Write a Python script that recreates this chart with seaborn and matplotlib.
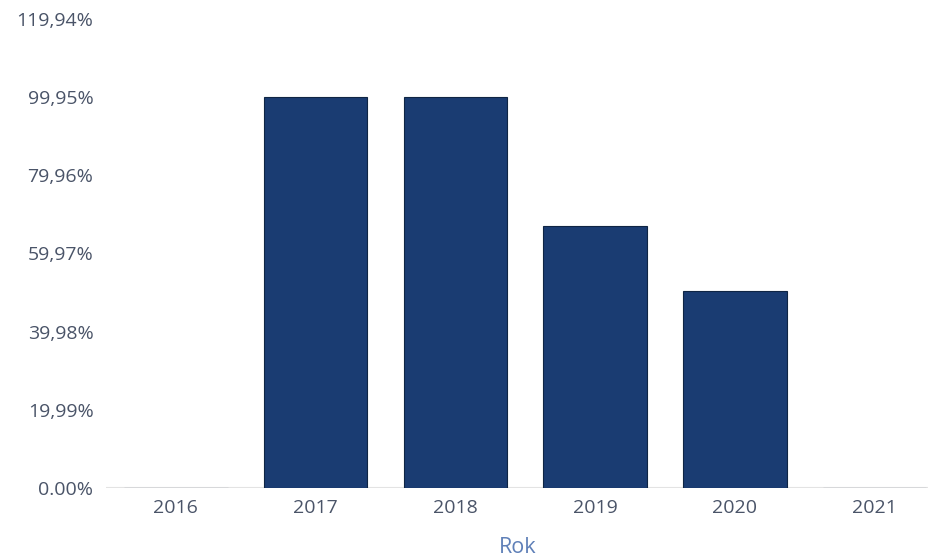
import matplotlib
matplotlib.use("Agg")
import matplotlib.pyplot as plt
import seaborn as sns
import pandas as pd

years = ["2016", "2017", "2018", "2019", "2020", "2021"]
values = [0.0, 99.95, 99.95, 67.1, 50.3, 0.0]
ytick_values = [0, 19.99, 39.98, 59.97, 79.96, 99.95, 119.94]
ytick_labels = ["0.00%", "19,99%", "39,98%", "59,97%", "79,96%", "99,95%", "119,94%"]
x_title = "Rok"

sns.set_theme(style="white")
plt.rcParams['font.family'] = ['Open Sans', 'DejaVu Sans']

df = pd.DataFrame({"Rok": years, "Wartość": values})

fig = plt.figure(figsize=(9.29, 5.6), dpi=100)
left_px = 106
ax = fig.add_axes([left_px/929, 72/560, (929 - left_px)/929, 469/560])

sns.barplot(data=df, x="Rok", y="Wartość", color="#1a3c72", width=0.74,
            saturation=1, ax=ax, edgecolor="#0f2544", linewidth=0.8)

ax.set_xlim(-0.5, -0.5 + (929 - left_px)/139.75)
ax.set_ylim(0, 119.94)
ax.set_yticks(ytick_values)
ax.set_yticklabels(ytick_labels)
ax.axhline(0, color="#e3e3e3", linewidth=1.5, zorder=0)

for s in ax.spines.values():
    s.set_visible(False)
ax.tick_params(axis="both", length=0, colors="#4a5468", labelsize=14)
ax.tick_params(axis="y", pad=9)
ax.tick_params(axis="x", pad=8)
ax.set_ylabel("")
ax.set_xlabel(x_title, color="#5f80b8", fontsize=15.5, labelpad=14)

fig.savefig("out.png", dpi=100)
